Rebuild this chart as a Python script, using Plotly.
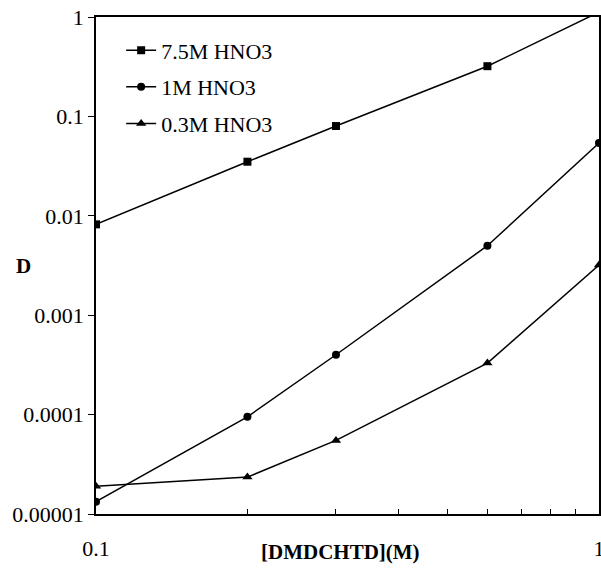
import plotly.graph_objects as go

x_conc = [0.1, 0.2, 0.3, 0.6, 1.0]
d_75M = [0.0082, 0.035, 0.08, 0.32, 1.12]
d_1M = [1.33e-5, 9.5e-5, 4.0e-4, 5.0e-3, 0.054]
d_03M = [1.9e-5, 2.35e-5, 5.5e-5, 3.3e-4, 3.2e-3]

series = [
    ("7.5M HNO3", d_75M, "square", 8),
    ("1M HNO3", d_1M, "circle", 8),
    ("0.3M HNO3", d_03M, "triangle-up", 9),
]

y_tickvals = [1, 0.1, 0.01, 0.001, 0.0001, 0.00001]
y_ticktext = ["1", "0.1", "0.01", "0.001", "0.0001", "0.00001"]
x_tickvals = [0.1, 0.2, 0.3, 0.4, 0.5, 0.6, 0.7, 0.8, 0.9, 1.0]
x_ticktext = ["0.1", "", "", "", "", "", "", "", "", "1"]

FONT = "Liberation Serif, Times New Roman, serif"
FS = 22

fig = go.Figure()
for i, (name, vals, sym, size) in enumerate(series):
    fig.add_trace(go.Scatter(
        x=x_conc, y=vals, name=name, mode="lines+markers",
        line=dict(color="black", width=1.5),
        marker=dict(symbol=sym, size=size, color="black"),
        legendgroup=str(i), cliponaxis=True,
    ))

fig.update_layout(
    width=601, height=569,
    margin=dict(l=96, r=2, t=17, b=55),
    paper_bgcolor="white", plot_bgcolor="white",
    font=dict(family=FONT, size=FS, color="black"),
    showlegend=True,
    legend=dict(x=0.05, y=0.975, xanchor="left", yanchor="top",
                bgcolor="rgba(0,0,0,0)", font=dict(family=FONT, size=FS),
                tracegroupgap=5),
    xaxis=dict(type="log", range=[-1, 0], showgrid=False, zeroline=False,
               automargin=False, ticklabeloverflow="allow",
               showline=True, linecolor="black", linewidth=1.5, mirror=True,
               tickvals=x_tickvals, ticktext=x_ticktext,
               ticks="inside", ticklen=5, tickcolor="black",
               ticklabelstandoff=14,
               tickfont=dict(family=FONT, size=FS)),
    yaxis=dict(type="log", range=[-5, 0], showgrid=False, zeroline=False,
               automargin=False, ticklabeloverflow="allow",
               showline=True, linecolor="black", linewidth=1.5, mirror=True,
               tickvals=y_tickvals, ticktext=y_ticktext,
               ticks="outside", ticklen=6, tickcolor="black",
               tickfont=dict(family=FONT, size=FS)),
    annotations=[
        dict(text="<b>[DMDCHTD](M)</b>", xref="paper", yref="paper",
             x=0.487, y=-0.077, xanchor="center", yanchor="middle",
             showarrow=False, font=dict(family=FONT, size=21)),
        dict(text="<b>D</b>", xref="paper", yref="paper",
             x=-0.145, y=0.499, xanchor="center", yanchor="middle",
             showarrow=False, font=dict(family=FONT, size=21)),
    ],
)

# remove the page's default 8px body margin so the figure sits at the window origin
fig.write_html("out.html",
               config={"displayModeBar": False},
               post_script="document.body.style.margin='0';document.body.style.overflow='hidden';")
